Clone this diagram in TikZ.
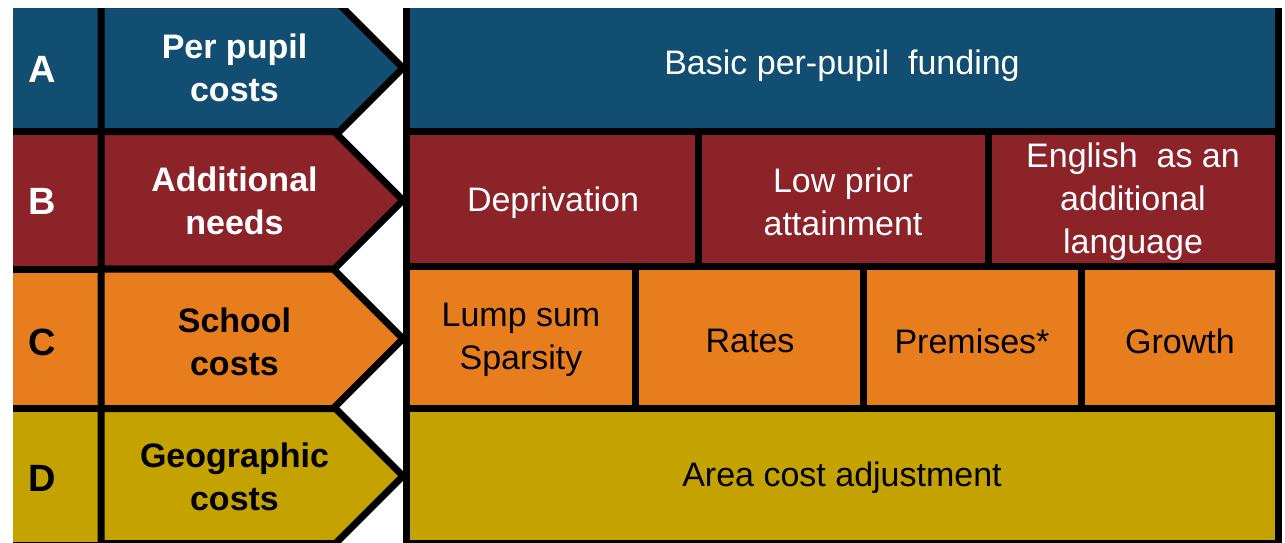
\documentclass[tikz,border=0pt]{standalone}
\usepackage{fontspec}
\setmainfont{Liberation Sans}
\definecolor{cA}{RGB}{18,78,114}
\definecolor{cB}{RGB}{139,35,41}
\definecolor{cC}{RGB}{232,125,30}
\definecolor{cD}{RGB}{196,162,0}
\begin{document}
\begin{tikzpicture}[x=1pt,y=-1pt,
  cell/.style={draw=black,line width=7pt,line join=bevel},
  letter/.style={font=\fontsize{38}{43}\selectfont\bfseries, inner sep=0pt},
  lbl/.style={font=\fontsize{34}{43}\selectfont\bfseries, align=center, inner sep=0pt},
  txt/.style={font=\fontsize{34}{43}\selectfont, align=center, inner sep=0pt}]
\useasboundingbox (0,0) rectangle (1285,542);
\begin{scope}
\clip (13,8) rectangle (1285,542);
% letter column
\filldraw[cell, fill=cA] (9.5,4.5) rectangle (101,131.5);
\filldraw[cell, fill=cB] (9.5,131.5) rectangle (101,269);
\filldraw[cell, fill=cC] (9.5,269) rectangle (101,408.5);
\filldraw[cell, fill=cD] (9.5,408.5) rectangle (101,545);
% arrows
\filldraw[cell, fill=cA] (101,4.5) -- (339.5,4.5) -- (403,68) -- (339.5,131.5) -- (101,131.5) -- cycle;
\filldraw[cell, fill=cB] (101,131.5) -- (334.25,131.5) -- (403,200.25) -- (334.25,269) -- (101,269) -- cycle;
\filldraw[cell, fill=cC] (101,269) -- (333.25,269) -- (403,338.75) -- (333.25,408.5) -- (101,408.5) -- cycle;
\filldraw[cell, fill=cD] (101,408.5) -- (335.5,408.5) -- (403,476) -- (335.5,543.5) -- (101,543.5) -- cycle;
% right panel
\filldraw[cell, fill=cA] (406.5,4.5) rectangle (1278.5,131.5);
\filldraw[cell, fill=cB] (406.5,131.5) rectangle (698.5,266.5);
\filldraw[cell, fill=cB] (698.5,131.5) rectangle (988,266.5);
\filldraw[cell, fill=cB] (988,131.5) rectangle (1278.5,266.5);
\filldraw[cell, fill=cC] (406.5,266.5) rectangle (635.5,408);
\filldraw[cell, fill=cC] (635.5,266.5) rectangle (863,408);
\filldraw[cell, fill=cC] (863,266.5) rectangle (1081,408);
\filldraw[cell, fill=cC] (1081,266.5) rectangle (1278.5,408);
\filldraw[cell, fill=cD] (406.5,408) rectangle (1278.5,543.5);
\end{scope}
% letters
\node[letter, text=white] (la) at (42,69) {A};
\node[letter, text=white] (lb) at (42,201) {B};
\node[letter, text=black] (lc) at (42,342) {C};
\node[letter, text=black] (ld) at (42,478) {D};
% arrow labels
\node[lbl, text=white] (aa) at (234.5,68) {Per pupil\\costs};
\node[lbl, text=white] (ab) at (234.5,201) {Additional\\needs};
\node[lbl, text=black] (ac) at (234.5,342) {School\\costs};
\node[lbl, text=black] (ad) at (234.5,477) {Geographic\\costs};
% right texts
\node[txt, text=white] (basic) at (842,66) {Basic per-pupil\hspace{0.28em} funding};
\node[txt, text=white] (dep) at (553,203) {Deprivation};
\node[txt, text=white] (low) at (843,202) {Low prior\\attainment};
\node[txt, text=white] (eal) at (1133,202) {English\hspace{0.28em} as an\\additional\\language};
\node[txt, text=black] (lump) at (521,340) {Lump sum\\Sparsity};
\node[txt, text=black] (rates) at (750,341) {Rates};
\node[txt, text=black] (prem) at (972,341) {Premises*};
\node[txt, text=black] (grow) at (1180,341) {Growth};
\node[txt, text=black] (aca) at (842,478) {Area cost adjustment};
\end{tikzpicture}
\end{document}
